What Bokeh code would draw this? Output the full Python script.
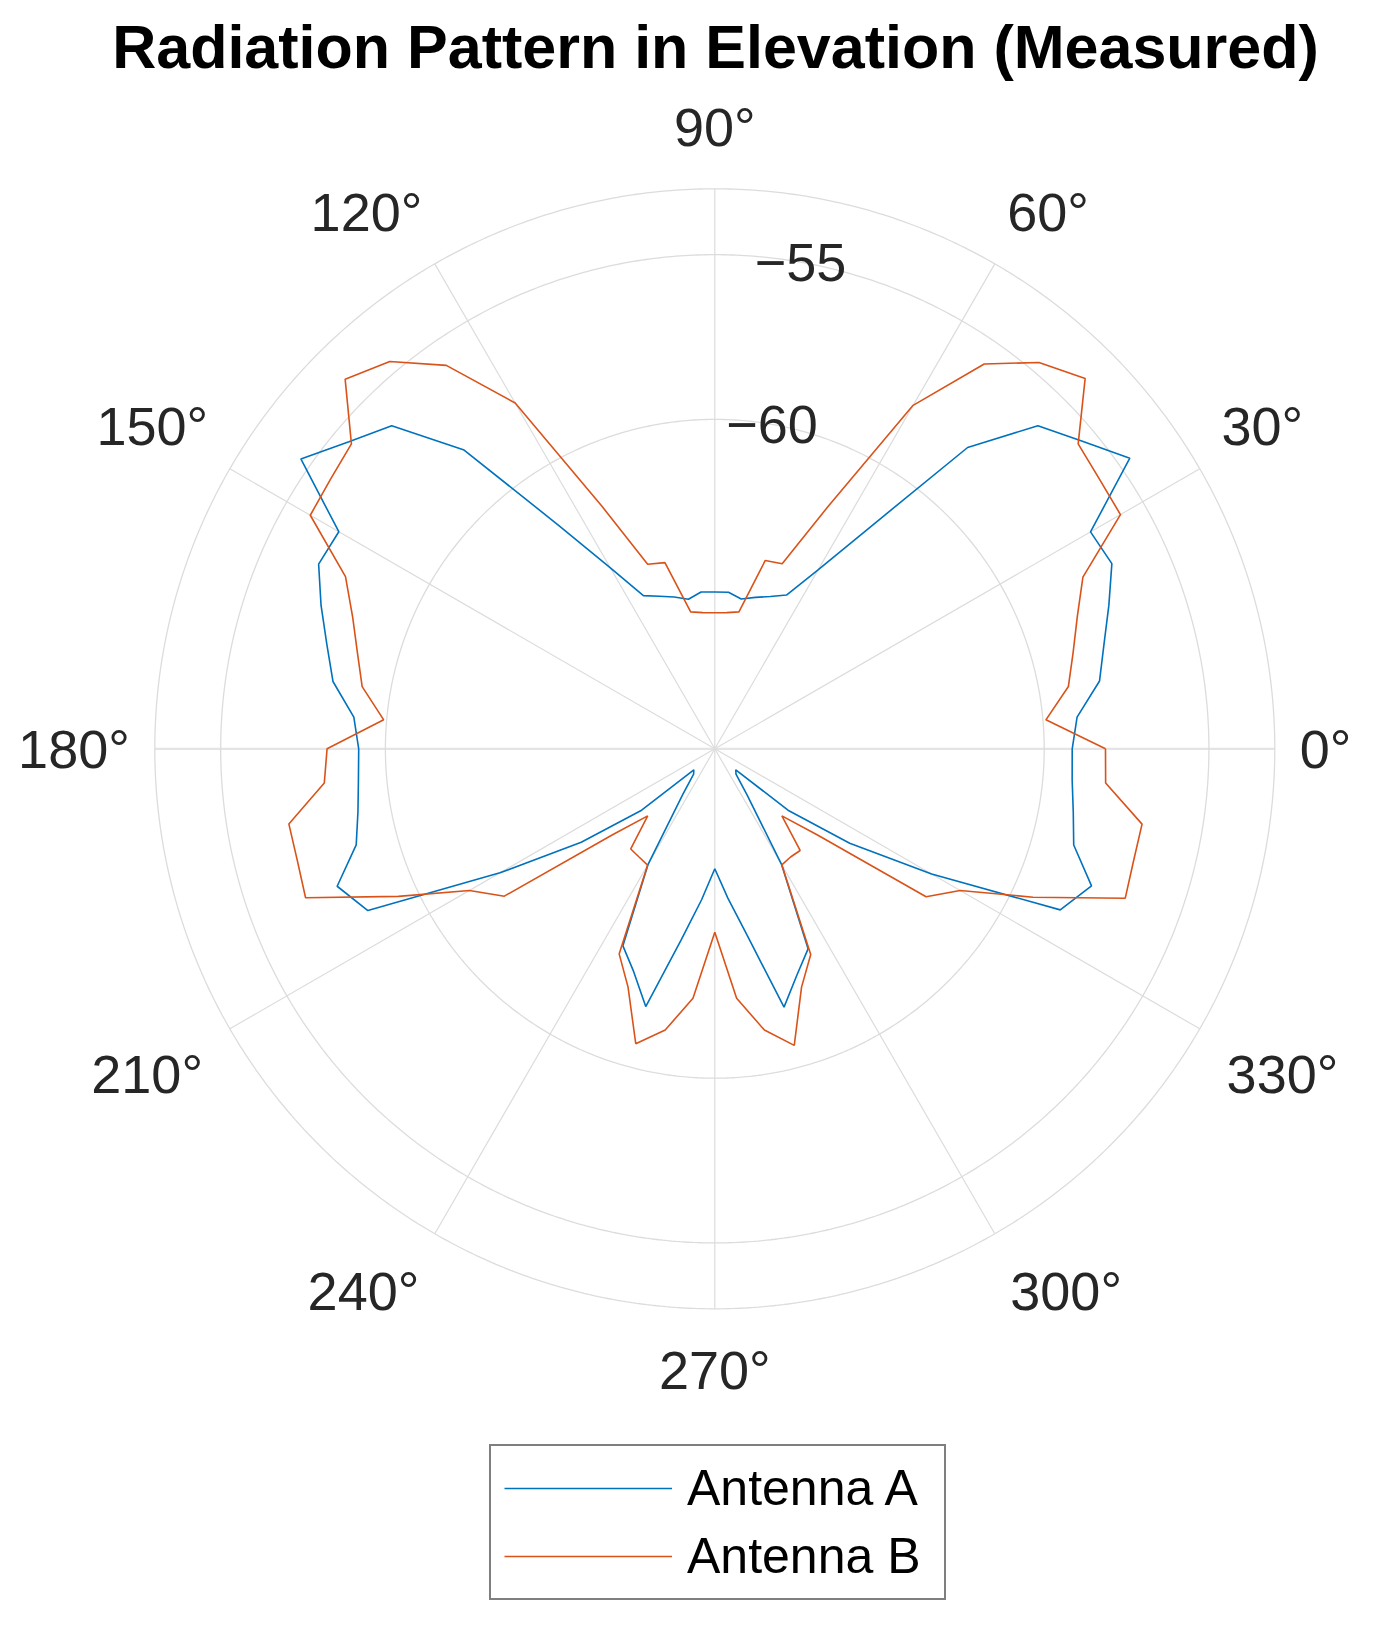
import numpy as np
from bokeh.plotting import figure
from bokeh.models import Range1d, Legend, LegendItem
from bokeh.core.properties import value
from bokeh.embed import file_html
from bokeh.resources import INLINE

# ---------------- data ----------------
theta_deg = list(range(0, 360, 5))

antenna_a_db = [
    -59.15, -58.96, -58.14, -57.77, -57.27, -56.70, -56.83, -54.62, -55.46, -56.13,
    -58.06, -61.79, -63.73, -64.85, -65.08, -65.24, -65.38, -65.23, -65.24, -65.22,
    -65.39, -65.23, -65.07, -64.87, -63.66, -61.70, -58.16, -56.13, -55.50, -54.66,
    -56.82, -56.73, -57.28, -57.81, -58.23, -59.00, -59.19, -59.14, -59.00, -58.73,
    -57.80, -58.38, -62.47, -65.05, -67.10, -69.10, -69.00, -68.30, -65.95, -63.40,
    -62.80, -61.90, -64.10, -65.40, -66.36, -65.45, -64.20, -61.88, -62.70, -63.30,
    -65.95, -68.30, -69.00, -69.10, -67.10, -65.00, -62.40, -58.43, -57.83, -58.72,
    -58.95, -59.11,
]

antenna_b_db = [
    -58.14, -59.91, -59.10, -58.74, -58.29, -57.67, -55.78, -55.74, -55.60, -54.10,
    -54.69, -55.74, -57.96, -61.91, -64.02, -64.08, -65.78, -65.85, -65.87, -65.85,
    -65.78, -64.15, -64.04, -61.85, -57.88, -55.79, -54.65, -54.13, -55.60, -55.75,
    -55.82, -57.63, -58.30, -58.77, -59.13, -59.91, -58.23, -58.10, -56.87, -56.88,
    -56.78, -59.40, -61.40, -62.20, -65.93, -67.12, -66.03, -65.99, -65.92, -63.13,
    -62.30, -60.73, -61.33, -62.40, -64.43, -62.40, -61.33, -60.68, -62.30, -63.11,
    -65.93, -65.99, -65.97, -67.12, -65.93, -62.17, -61.40, -59.34, -56.74, -56.84,
    -56.83, -58.09,
]

r_min, r_max = -70, -53
r_ticks = [-60, -55]
theta_ticks = list(range(0, 360, 30))
theta_labels = [f"{t}°" for t in theta_ticks]
series_names = ["Antenna A", "Antenna B"]
series_colors = ["#0072BD", "#D95319"]
title_text = "Radiation Pattern in Elevation (Measured)"

# ---------------- layout ----------------
FIG_W, FIG_H = 1360, 1618
CX, CY = 714.3, 748.3          # polar centre in figure pixels (from top-left)
PX = 560.0 / (r_max - r_min)   # pixels per dB
R_OUT = r_max - r_min
FONT = "Liberation Sans"
TXT = "#262626"
GRID = "#dcdcdc"

p = figure(width=FIG_W, height=FIG_H, output_backend="svg", toolbar_location=None,
           x_range=Range1d(-CX / PX, (FIG_W - CX) / PX),
           y_range=Range1d(-(FIG_H - CY) / PX, CY / PX),
           x_axis_location=None, y_axis_location=None, min_border=0)
p.grid.visible = False
p.outline_line_color = None
p.background_fill_color = "white"
p.border_fill_color = "white"

# grid: spokes
for t in theta_ticks:
    a = np.deg2rad(t)
    horiz = t in (0, 180)
    p.segment(x0=[0], y0=[0], x1=[R_OUT * np.cos(a)], y1=[R_OUT * np.sin(a)],
              line_color="#e4e4e4" if horiz else GRID, line_width=2.2 if horiz else 1.2)

# grid: circles
circ = np.linspace(0, 2 * np.pi, 721)
for rv in r_ticks + [r_max]:
    rr = rv - r_min
    p.line(rr * np.cos(circ), rr * np.sin(circ), line_color=GRID, line_width=1.3)

# data
renderers = []
for db, col in zip([antenna_a_db, antenna_b_db], series_colors):
    th = np.deg2rad(np.array(theta_deg + [theta_deg[0]], dtype=float))
    rr = np.array(db + [db[0]]) - r_min
    renderers.append(p.line(rr * np.cos(th), rr * np.sin(th), line_color=col, line_width=1.6))

# theta labels
for t, lab in zip(theta_ticks, theta_labels):
    a = np.deg2rad(t)
    c, s = np.cos(a), np.sin(a)
    align = "left" if c > 0.1 else ("right" if c < -0.1 else "center")
    base = "bottom" if s > 0.1 else ("top" if s < -0.1 else "middle")
    rpx = 585.0
    if t == 90:
        rpx += 7.0
    elif s < -0.1:
        rpx += 6.0
    R_LAB = rpx / PX
    p.text(x=[R_LAB * c], y=[R_LAB * s], text=[lab], text_align=align, text_baseline=base,
           text_font=value(FONT), text_font_size="54px", text_color=TXT)

# r labels along 80 degrees
a80 = np.deg2rad(80)
for rv in r_ticks:
    rr = rv - r_min
    p.text(x=[rr * np.cos(a80)], y=[rr * np.sin(a80)], text=[f"\u2212{abs(rv)}"],
           text_align="center", text_baseline="middle",
           text_font=value(FONT), text_font_size="54px", text_color=TXT)

# title
p.text(x=[(715 - CX) / PX], y=[(CY - 46) / PX], text=[title_text], text_align="center",
       text_baseline="alphabetic", text_font=value(FONT), text_font_style="bold",
       text_font_size="61px", text_color="#000000")

# legend
legend = Legend(items=[LegendItem(label=n, renderers=[r]) for n, r in zip(series_names, renderers)],
                location=(489, FIG_H - 1600), orientation="vertical",
                border_line_color="#000000", border_line_width=2.2,
                background_fill_color="white", background_fill_alpha=1.0,
                label_text_font=FONT, label_text_font_size="50px", label_text_color="#000000",
                glyph_width=168, glyph_height=54, label_height=54, label_width=244,
                spacing=10, padding=13, label_standoff=15)
p.add_layout(legend)

open("out.html", "w").write(file_html(p, INLINE))
